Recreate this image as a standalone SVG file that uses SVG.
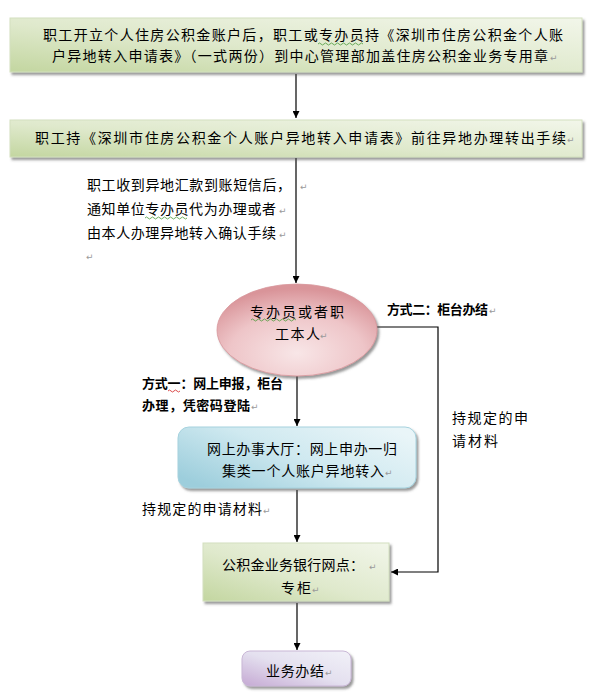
<svg xmlns="http://www.w3.org/2000/svg" width="592" height="695" viewBox="0 0 592 695">
<style>
.t{font-family:"Noto Sans CJK SC","Liberation Sans",sans-serif;font-size:14px;fill:#000}
.b{font-family:"Noto Sans CJK SC","Liberation Sans",sans-serif;font-size:13px;font-weight:bold;fill:#000}
.pm{font-family:"DejaVu Sans",sans-serif;font-size:9px;fill:#9a9a9a}
.ln{stroke:#000;stroke-width:1.2;fill:none}
.wg{stroke:#4a9a3a;stroke-width:0.8;fill:none}
.wr{stroke:#d02020;stroke-width:0.8;fill:none}
</style>
<defs>
<linearGradient id="gGreen" x1="1" y1="0" x2="0" y2="1">
<stop offset="0" stop-color="#f2f6ea"/>
<stop offset="0.55" stop-color="#dfe9cc"/>
<stop offset="1" stop-color="#c3d6a0"/>
</linearGradient>
<radialGradient id="gPink" cx="0.5" cy="0.75" r="0.7">
<stop offset="0" stop-color="#f8e6e7"/>
<stop offset="0.6" stop-color="#eec5c8"/>
<stop offset="1" stop-color="#d99499"/>
</radialGradient>
<linearGradient id="gBlue" x1="1" y1="0.2" x2="0" y2="0.8">
<stop offset="0" stop-color="#e9f5f8"/>
<stop offset="0.5" stop-color="#cfe9f0"/>
<stop offset="1" stop-color="#9dcedc"/>
</linearGradient>
<linearGradient id="gPurple" x1="1" y1="0" x2="0" y2="1">
<stop offset="0" stop-color="#f1f1f8"/>
<stop offset="0.5" stop-color="#e4e0ef"/>
<stop offset="1" stop-color="#c5a9d3"/>
</linearGradient>
<filter id="sh" x="-5%" y="-10%" width="115%" height="130%">
<feDropShadow dx="2" dy="2.5" stdDeviation="1" flood-color="#555" flood-opacity="0.6"/>
</filter>
<marker id="ar" viewBox="0 0 10 10" refX="10" refY="5" markerWidth="7" markerHeight="7" orient="auto" markerUnits="userSpaceOnUse">
<path d="M0,0 L10,5 L0,10 z" fill="#000"/>
</marker>
</defs>

<g id="connectors">
<line class="ln" x1="296" y1="74" x2="296" y2="118" marker-end="url(#ar)"/>
<line class="ln" x1="296" y1="158" x2="296" y2="283" marker-end="url(#ar)"/>
<line class="ln" x1="297" y1="376" x2="297" y2="426" marker-end="url(#ar)"/>
<line class="ln" x1="297" y1="490" x2="297" y2="542" marker-end="url(#ar)"/>
<line class="ln" x1="297" y1="603" x2="297" y2="650" marker-end="url(#ar)"/>
<polyline class="ln" points="377,327 438,327 438,572 391,572" marker-end="url(#ar)"/>
</g>

<g id="node1">
<rect x="10" y="18" width="572" height="54" fill="url(#gGreen)" stroke="#d3e0bf" stroke-width="1" filter="url(#sh)"/>
<text class="t" x="43" y="40" textLength="520" lengthAdjust="spacing">职工开立个人住房公积金账户后，职工或专办员持《深圳市住房公积金个人账</text>
<path class="wg" d="M318,44 q1.5,-2 3,0 t3,0 t3,0 t3,0 t3,0 t3,0 t3,0 t3,0 t3,0 t3,0 t3,0 t3,0 t3,0 t3,0 t3,0"/>
<text class="t" x="52" y="61" textLength="496" lengthAdjust="spacing">户异地转入申请表》（一式两份）到中心管理部加盖住房公积金业务专用章</text>
<text class="pm" x="550" y="61">↵</text>
</g>

<g id="node2">
<rect x="10" y="120" width="572" height="37" fill="url(#gGreen)" stroke="#d3e0bf" stroke-width="1" filter="url(#sh)"/>
<text class="t" x="35" y="143" textLength="531" lengthAdjust="spacing">职工持《深圳市住房公积金个人账户异地转入申请表》前往异地办理转出手续</text>
<text class="pm" x="567" y="143">↵</text>
</g>

<g id="note1">
<text class="t" x="87" y="190" textLength="204" lengthAdjust="spacing">职工收到异地汇款到账短信后，</text>
<text class="pm" x="300" y="190">↵</text>
<text class="t" x="87" y="214" textLength="189" lengthAdjust="spacing">通知单位专办员代为办理或者</text>
<path class="wg" d="M145,218 q1.5,-2 3,0 t3,0 t3,0 t3,0 t3,0 t3,0 t3,0 t3,0 t3,0 t3,0 t3,0 t3,0 t3,0 t3,0"/>
<text class="pm" x="279" y="214">↵</text>
<text class="t" x="87" y="238" textLength="189" lengthAdjust="spacing">由本人办理异地转入确认手续</text>
<text class="pm" x="279" y="238">↵</text>
<text class="pm" x="86" y="260">↵</text>
</g>

<g id="node3">
<ellipse cx="297" cy="330" rx="80" ry="46" fill="url(#gPink)" stroke="#d8979c" stroke-width="0.8" filter="url(#sh)"/>
<text class="t" x="250" y="317" textLength="94" lengthAdjust="spacing">专办员或者职</text>
<path class="wg" d="M251,320 q1.5,-2 3,0 t3,0 t3,0 t3,0 t3,0 t3,0 t3,0 t3,0 t3,0 t3,0 t3,0 t3,0 t3,0 t3,0 t3,0"/>
<text class="t" x="275" y="339" textLength="45" lengthAdjust="spacing">工本人</text>
<text class="pm" x="320" y="339">↵</text>
</g>

<g id="label-way2">
<text class="b" x="387" y="314" textLength="101" lengthAdjust="spacing">方式二：柜台办结</text>
<text class="pm" x="489" y="314">↵</text>
</g>

<g id="label-material-right">
<text class="t" x="452" y="423" textLength="76" lengthAdjust="spacing">持规定的申</text>
<text class="t" x="452" y="446" textLength="46" lengthAdjust="spacing">请材料</text>
</g>

<g id="label-way1">
<text class="b" x="142" y="388" textLength="141" lengthAdjust="spacing">方式一：网上申报，柜台</text>
<path class="wr" d="M168,391 q1.5,-2 3,0 t3,0 t3,0 t3,0"/>
<text class="b" x="142" y="410" textLength="108" lengthAdjust="spacing">办理，凭密码登陆</text>
<text class="pm" x="251" y="410">↵</text>
</g>

<g id="node4">
<rect x="178" y="427" width="238" height="61" rx="11" ry="11" fill="url(#gBlue)" stroke="#a6d2de" stroke-width="1" filter="url(#sh)"/>
<text class="t" x="207" y="454" textLength="190" lengthAdjust="spacing">网上办事大厅：网上申办一归</text>
<text class="t" x="222" y="476" textLength="162" lengthAdjust="spacing">集类一个人账户异地转入</text>
<text class="pm" x="385" y="476">↵</text>
</g>

<g id="label-material-left">
<text class="t" x="142" y="514" textLength="120" lengthAdjust="spacing">持规定的申请材料</text>
<text class="pm" x="263" y="514">↵</text>
</g>

<g id="node5">
<rect x="203" y="543" width="186" height="58" fill="url(#gGreen)" stroke="#d3e0bf" stroke-width="1" filter="url(#sh)"/>
<text class="t" x="222" y="570" textLength="142" lengthAdjust="spacing">公积金业务银行网点：</text>
<text class="pm" x="369" y="570">↵</text>
<text class="t" x="281" y="593" textLength="30" lengthAdjust="spacing">专柜</text>
<text class="pm" x="312" y="593">↵</text>
</g>

<g id="node6">
<rect x="242" y="651" width="109" height="35" rx="8" ry="8" fill="url(#gPurple)" stroke="#c9b7d6" stroke-width="1" filter="url(#sh)"/>
<text class="t" x="266" y="676" textLength="58" lengthAdjust="spacing">业务办结</text>
<text class="pm" x="325" y="676">↵</text>
</g>
</svg>
